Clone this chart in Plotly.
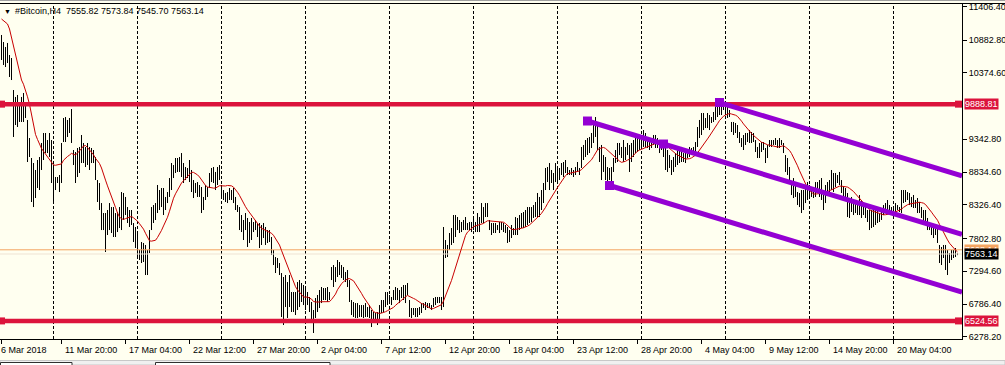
import pandas as pd
import plotly.graph_objects as go

# ---------------- data ----------------
symbol_title = "#Bitcoin,H4"
header_ohlc = [7555.82, 7573.84, 7545.70, 7563.14]
first_bar = "2018-03-06 20:00"
bar_hours = 4

highs = [
    10962, 10853, 10776, 10838, 10651, 10605, 10108, 10000, 10031, 9906,
    10000, 10062, 9906, 9643, 9363, 9053, 8975, 8867, 9022, 9068,
    9286, 9441, 9441, 9332, 9441, 9332, 8944, 8758, 8758, 8789,
    9286, 9674, 9689, 9643, 9674, 9813, 9177, 9146, 9208, 9224,
    9410, 9286, 9224, 9286, 9224, 9208, 9177, 9068, 8711, 8665,
    8354, 8199, 8199, 8246, 8354, 8292, 8292, 8199, 8215, 8292,
    8525, 8510, 8448, 8292, 8246, 8246, 8044, 7982, 7889, 7625,
    7749, 7734, 7703, 7625, 7935, 8292, 8323, 8354, 8634, 8556,
    8587, 8587, 8448, 8525, 8742, 8975, 8944, 9053, 9053, 9068,
    9130, 8975, 8913, 8898, 9022, 8867, 8711, 8665, 8680, 8634,
    8603, 8448, 8634, 8603, 8820, 8898, 8913, 8836, 8913, 8944,
    8634, 8556, 8510, 8525, 8587, 8556, 8587, 8448, 8323, 8292,
    8168, 8091, 8199, 8122, 8060, 8122, 8060, 8091, 8044, 8044,
    8013, 8044, 7982, 7935, 7935, 7827, 7625, 7516, 7501, 7423,
    7268, 7206, 7237, 7128, 7237, 6973, 6973, 6973, 7128, 7159,
    7113, 7082, 7051, 6973, 6896, 6818, 6694, 6880, 6927, 7004,
    7051, 7035, 7035, 7051, 6973, 7361, 7392, 7361, 7470, 7439,
    7392, 7361, 7284, 7315, 7159, 6849, 6818, 6802, 6802, 6771,
    6771, 6771, 6802, 6740, 6771, 6694, 6663, 6647, 6663, 6771,
    6849, 6849, 6973, 6973, 6927, 6896, 7004, 7051, 7035, 7004,
    7051, 7082, 7082, 7113, 6849, 6725, 6725, 6725, 6725, 6740,
    6802, 6802, 6818, 6802, 6802, 6771, 6880, 6896, 6896, 6896,
    6896, 7982, 7780, 7703, 7889, 7966, 8168, 8168, 8137, 8091,
    8060, 8091, 8137, 8044, 8060, 8060, 8122, 8060, 8199, 8137,
    8354, 8292, 8354, 8354, 8091, 8044, 8044, 8044, 8013, 8060,
    8060, 8044, 8013, 7982, 7935, 8013, 7966, 8137, 8122, 8168,
    8199, 8215, 8246, 8292, 8292, 8292, 8323, 8370, 8510, 8448,
    8556, 8665, 8898, 8913, 8975, 8867, 8820, 8975, 8913, 8898,
    8975, 8991, 9022, 8913, 8867, 8898, 8867, 8913, 8991, 8898,
    9224, 9255, 9332, 9363, 9379, 9441, 9565, 9689, 9565, 9224,
    9255, 9099, 9068, 8913, 8898, 8913, 9053, 9177, 9286, 9286,
    9224, 9332, 9224, 9286, 9255, 9286, 9332, 9363, 9363, 9379,
    9379, 9487, 9441, 9363, 9363, 9301, 9410, 9410, 9363, 9286,
    9332, 9224, 9224, 9177, 9099, 9022, 9068, 9130, 9177, 9177,
    9224, 9130, 9146, 9177, 9224, 9208, 9224, 9301, 9534, 9643,
    9751, 9751, 9674, 9751, 9720, 9689, 9767, 9844, 9906, 9922,
    9968, 9906, 9875, 9844, 9798, 9612, 9612, 9596, 9565, 9456,
    9363, 9410, 9441, 9441, 9487, 9456, 9441, 9332, 9224, 9286,
    9301, 9301, 9208, 9255, 9332, 9332, 9332, 9363, 9332, 9363,
    9332, 9286, 9099, 9053, 8913, 8680, 8742, 8665, 8525, 8510,
    8556, 8556, 8634, 8680, 8634, 8603, 8587, 8680, 8680, 8711,
    8742, 8510, 8634, 8680, 8711, 8867, 8820, 8820, 8789, 8836,
    8711, 8603, 8587, 8510, 8401, 8448, 8401, 8354, 8323, 8479,
    8401, 8370, 8292, 8246, 8246, 8246, 8292, 8246, 8246, 8199,
    8277, 8323, 8354, 8401, 8323, 8292, 8277, 8354, 8323, 8292,
    8556, 8556, 8556, 8525, 8510, 8448, 8479, 8401, 8432, 8370,
    8292, 8246, 8246, 8122, 8060, 8013, 7982, 7966, 7966, 7703,
    7672, 7703, 7703, 7625, 7578, 7625, 7625, 7656, 7573.84,
]

lows = [
    10574, 10496, 10465, 10527, 10310, 10263, 9379, 9565, 9534, 9612,
    9612, 9612, 9674, 8991, 9068, 8370, 8292, 8432, 8587, 8556,
    8867, 9022, 9130, 9130, 9068, 8665, 8354, 8556, 8665, 8525,
    8665, 9301, 9301, 9379, 9441, 9286, 8944, 8665, 8758, 8820,
    8975, 8975, 8913, 8944, 8867, 8975, 8975, 8711, 8370, 8246,
    7935, 7935, 7594, 7858, 7935, 7889, 7827, 7827, 7904, 7966,
    7935, 8091, 8168, 8044, 7982, 8013, 7749, 7656, 7516, 7470,
    7423, 7439, 7237, 7237, 7578, 7935, 8044, 8091, 8199, 8246,
    8292, 8168, 8246, 8354, 8448, 8556, 8742, 8820, 8836, 8836,
    8758, 8665, 8711, 8742, 8680, 8525, 8432, 8510, 8448, 8448,
    8199, 8246, 8401, 8448, 8587, 8680, 8665, 8556, 8634, 8711,
    8448, 8401, 8370, 8354, 8401, 8401, 8354, 8246, 8215, 7935,
    7904, 7780, 7935, 7672, 7734, 7780, 7904, 7935, 7827, 7656,
    7703, 7811, 7703, 7734, 7749, 7547, 7392, 7268, 7346, 7237,
    6585, 6461, 6740, 6570, 6740, 6663, 6663, 6616, 6694, 6740,
    6818, 6771, 6694, 6771, 6663, 6539, 6337, 6570, 6663, 6725,
    6802, 6849, 6849, 6818, 6849, 7159, 7051, 7128, 7206, 7237,
    7190, 7159, 7128, 7051, 6818, 6616, 6585, 6570, 6570, 6585,
    6585, 6570, 6585, 6585, 6570, 6430, 6539, 6492, 6461, 6539,
    6647, 6663, 6740, 6771, 6802, 6771, 6849, 6849, 6849, 6802,
    6880, 6849, 6802, 6927, 6585, 6570, 6616, 6585, 6585, 6616,
    6647, 6725, 6694, 6725, 6725, 6694, 6740, 6771, 6802, 6802,
    6694, 6740, 7501, 7516, 7625, 7703, 7734, 7827, 7935, 7889,
    7904, 7935, 7935, 7935, 7935, 7904, 7935, 7904, 7904, 7904,
    8044, 8044, 8137, 8137, 7935, 7858, 7889, 7889, 7935, 7889,
    7935, 7904, 7889, 7734, 7749, 7811, 7858, 7858, 7858, 7935,
    7966, 7966, 7982, 8013, 8044, 8060, 8122, 8137, 8137, 8137,
    8246, 8354, 8556, 8680, 8556, 8665, 8556, 8680, 8680, 8711,
    8789, 8758, 8820, 8789, 8789, 8789, 8758, 8789, 8836, 8789,
    8898, 9022, 9068, 9099, 9130, 9208, 9286, 9379, 9177, 8991,
    8711, 8836, 8711, 8680, 8711, 8665, 8836, 8975, 8991, 9099,
    9053, 8991, 9022, 9099, 8836, 8991, 9068, 9130, 9146, 9177,
    9208, 9224, 9224, 9208, 9177, 9208, 9255, 9208, 9208, 9130,
    9177, 9068, 8867, 8836, 8898, 8789, 8836, 8913, 8944, 8975,
    8991, 8991, 8975, 9053, 9068, 9099, 9130, 9146, 9224, 9363,
    9410, 9487, 9518, 9518, 9487, 9596, 9612, 9643, 9689, 9720,
    9720, 9798, 9720, 9674, 9689, 9456, 9410, 9441, 9363, 9286,
    9224, 9177, 9255, 9301, 9286, 9286, 9301, 9146, 9053, 9053,
    9146, 9177, 8975, 9053, 9224, 9224, 9255, 9255, 9208, 9208,
    9255, 9130, 8836, 8789, 8665, 8479, 8432, 8448, 8323, 8292,
    8199, 8246, 8354, 8401, 8448, 8448, 8432, 8448, 8556, 8448,
    8401, 8246, 8354, 8479, 8525, 8556, 8525, 8603, 8665, 8634,
    8510, 8448, 8432, 8137, 8122, 8215, 8168, 8199, 8168, 8168,
    8122, 8168, 8122, 8060, 7935, 7966, 7982, 8013, 8044, 8060,
    8091, 8168, 8199, 8215, 8215, 8215, 8215, 8215, 8246, 8215,
    8199, 8354, 8370, 8401, 8323, 8292, 8277, 8277, 8199, 8199,
    8122, 8060, 8013, 7935, 7935, 7858, 7811, 7858, 7734, 7423,
    7392, 7501, 7315, 7237, 7423, 7470, 7501, 7516, 7545.70,
]

# moving average: period, and its first values (before a full window exists)
ma_period = 12
ma_head = [11210, 11179, 11164, 11133, 11055, 10915, 10776, 10636, 10527, 10388, 10263]

level_prices = [9888.81, 6524.56]
bid_price = 7563.14
ask_price = 7628.14

channel_base_times = ["2018-04-24 16:00", "2018-05-01 00:00"]
channel_base_prices = [9627, 9270]
channel_top_start = ("2018-05-05 16:00", 9914)
channel_bottom_start = ("2018-04-26 12:00", 8626)

x_label_times = ["2018-03-06 20:00", "2018-03-11 20:00", "2018-03-17 04:00", "2018-03-22 12:00",
                 "2018-03-27 20:00", "2018-04-02 04:00", "2018-04-07 12:00", "2018-04-12 20:00",
                 "2018-04-18 04:00", "2018-04-23 12:00", "2018-04-28 20:00", "2018-05-04 04:00",
                 "2018-05-09 12:00", "2018-05-14 20:00", "2018-05-20 04:00"]
x_label_text = ["6 Mar 2018", "11 Mar 20:00", "17 Mar 04:00", "22 Mar 12:00", "27 Mar 20:00",
                "2 Apr 04:00", "7 Apr 12:00", "12 Apr 20:00", "18 Apr 04:00", "23 Apr 12:00",
                "28 Apr 20:00", "4 May 04:00", "9 May 12:00", "14 May 20:00", "20 May 04:00"]
y_tick_values = [11406.40, 10882.80, 10374.60, 9342.80, 8834.60, 8326.40, 7802.80, 7294.60, 6786.40, 6278.20]
grid_times = ["2018-03-11 04:00", "2018-03-18 04:00", "2018-03-25 04:00", "2018-04-01 04:00",
              "2018-04-08 04:00", "2018-04-15 04:00", "2018-04-22 04:00", "2018-04-29 04:00",
              "2018-05-06 04:00", "2018-05-13 04:00", "2018-05-20 04:00"]

x_range = ["2018-03-06 17:00", "2018-05-25 21:00"]
y_range = [6244, 11443]

# ---------------- styling ----------------
W, H = 1005, 365
M_L, M_R, M_T, M_B = 0, 43, 4, 26
PW, PH = W - M_L - M_R, H - M_T - M_B
BG = "#FFFFF0"
CRIMSON = "#DC143C"
VIOLET = "#9400D3"
FONT = "Liberation Sans, Arial, sans-serif"


def py(ypx):
    return (M_T + PH - ypx) / PH


def pxx(xpx):
    return (xpx - M_L) / PW


times = pd.date_range(first_bar, periods=len(highs), freq=f"{bar_hours}h")
hs = pd.Series(highs, dtype=float)
ls = pd.Series(lows, dtype=float)
ma = ((hs + ls) / 2).rolling(ma_period).mean()
ma.iloc[:len(ma_head)] = ma_head

fig = go.Figure()

# bars (high-low sticks)
bx, by = [], []
for t, h, l in zip(times, highs, lows):
    bx += [t, t, None]
    by += [l, h, None]
fig.add_trace(go.Scatter(x=bx, y=by, mode="lines", line=dict(color="black", width=1),
                         hoverinfo="skip"))

# bid / ask lines
xr0, xr1 = pd.Timestamp(x_range[0]), pd.Timestamp(x_range[1])
fig.add_trace(go.Scatter(x=[xr0, xr1], y=[ask_price, ask_price], mode="lines",
                         line=dict(color="#F4A460", width=1)))
fig.add_trace(go.Scatter(x=[xr0, xr1], y=[bid_price, bid_price], mode="lines",
                         line=dict(color="#EFE3D3", width=1)))

# moving average
fig.add_trace(go.Scatter(x=times, y=ma, mode="lines", line=dict(color="#C80000", width=1)))

# horizontal levels
for lv in level_prices:
    fig.add_trace(go.Scatter(x=[xr0, xr1], y=[lv, lv], mode="lines",
                             line=dict(color=CRIMSON, width=4.5)))
    fig.add_trace(go.Scatter(x=[times[0], xr1 - pd.Timedelta(hours=7)], y=[lv, lv], mode="markers",
                             marker=dict(symbol="square", size=7, color=CRIMSON),
                             cliponaxis=False))

# channel
t0, t1 = pd.Timestamp(channel_base_times[0]), pd.Timestamp(channel_base_times[1])
slope = (channel_base_prices[1] - channel_base_prices[0]) / ((t1 - t0).total_seconds() / 3600)
starts = [(t0, channel_base_prices[0]),
          (pd.Timestamp(channel_top_start[0]), channel_top_start[1]),
          (pd.Timestamp(channel_bottom_start[0]), channel_bottom_start[1])]
for ts, p in starts:
    pend = p + slope * (xr1 - ts).total_seconds() / 3600
    fig.add_trace(go.Scatter(x=[ts, xr1], y=[p, pend], mode="lines",
                             line=dict(color=VIOLET, width=5)))
mk_t = [t0, t1, starts[1][0], starts[2][0]]
mk_p = [channel_base_prices[0], channel_base_prices[1], starts[1][1], starts[2][1]]
fig.add_trace(go.Scatter(x=mk_t, y=mk_p, mode="markers",
                         marker=dict(symbol="square", size=9, color=VIOLET)))

shapes = []
# vertical dashed grid
for g in grid_times:
    shapes.append(dict(type="line", xref="x", yref="paper", x0=g, x1=g, y0=0, y1=1,
                       line=dict(color="black", width=1, dash="3px,2px"), layer="below"))
# frame lines at the top
shapes.append(dict(type="line", xref="paper", yref="paper", x0=0, x1=pxx(W), y0=py(0.5), y1=py(0.5),
                   line=dict(color="#A0A0A0", width=1)))
shapes.append(dict(type="line", xref="paper", yref="paper", x0=0, x1=pxx(W), y0=py(3.5), y1=py(3.5),
                   line=dict(color="black", width=1)))
# bottom tab strip
shapes.append(dict(type="rect", xref="paper", yref="paper", x0=0, x1=pxx(W), y0=py(365), y1=py(360.5),
                   fillcolor="#F0F0F0", line=dict(color="#C8C8C8", width=1)))
shapes.append(dict(type="rect", xref="paper", yref="paper", x0=pxx(0.5), x1=pxx(72), y0=py(366), y1=py(362.5),
                   fillcolor="white", line=dict(color="#303030", width=1)))
shapes.append(dict(type="rect", xref="paper", yref="paper", x0=pxx(155.5), x1=pxx(330), y0=py(366), y1=py(362.5),
                   fillcolor="white", line=dict(color="#303030", width=1)))

annotations = []
# header
annotations.append(dict(xref="paper", yref="paper", x=pxx(2), y=py(11.5), xanchor="left", yanchor="middle",
                        text="▼", showarrow=False, font=dict(family=FONT, size=7, color="black")))
annotations.append(dict(xref="paper", yref="paper", x=pxx(13), y=py(11.5), xanchor="left", yanchor="middle",
                        text=symbol_title + "  " + " ".join(f"{v:.2f}" for v in header_ohlc),
                        showarrow=False, font=dict(family=FONT, size=9, color="black")))
# time labels
for i, (t, s) in enumerate(zip(x_label_times, x_label_text)):
    annotations.append(dict(xref="x", yref="paper", x=t, y=py(349.5), xanchor="left", yanchor="middle",
                            xshift=(-3 if i == 0 else 1), text=s, showarrow=False,
                            font=dict(family=FONT, size=9, color="black")))
# price labels on the scale
price_tags = [(level_prices[0], CRIMSON), (level_prices[1], CRIMSON),
              (ask_price, "#F4A460"), (bid_price, "black")]
for p, c in price_tags:
    annotations.append(dict(xref="paper", yref="y", x=1, y=p, xanchor="left", yanchor="middle",
                            xshift=2, text=f"{p:.2f}", showarrow=False, bgcolor=c, borderpad=0,
                            font=dict(family=FONT, size=9, color="white")))

fig.update_layout(
    width=W, height=H,
    margin=dict(l=M_L, r=M_R, t=M_T, b=M_B, pad=0),
    paper_bgcolor=BG, plot_bgcolor=BG,
    showlegend=False, hovermode=False,
    shapes=shapes, annotations=annotations,
    xaxis=dict(type="date", range=x_range, showgrid=False, zeroline=False,
               showline=True, linecolor="black", linewidth=1,
               tickmode="array", tickvals=x_label_times, ticktext=[""] * len(x_label_times),
               ticks="outside", ticklen=4, tickcolor="black", showticklabels=False),
    yaxis=dict(range=y_range, side="right", showgrid=False, zeroline=False,
               showline=True, linecolor="black", linewidth=1,
               tickmode="array", tickvals=y_tick_values, ticktext=[f"{v:.2f}" for v in y_tick_values],
               ticks="outside", ticklen=4, tickcolor="black",
               tickfont=dict(family=FONT, size=9, color="black")),
)

fig.write_html("out.html", config={"displayModeBar": False},
               post_script="document.body.style.margin='0px';")
